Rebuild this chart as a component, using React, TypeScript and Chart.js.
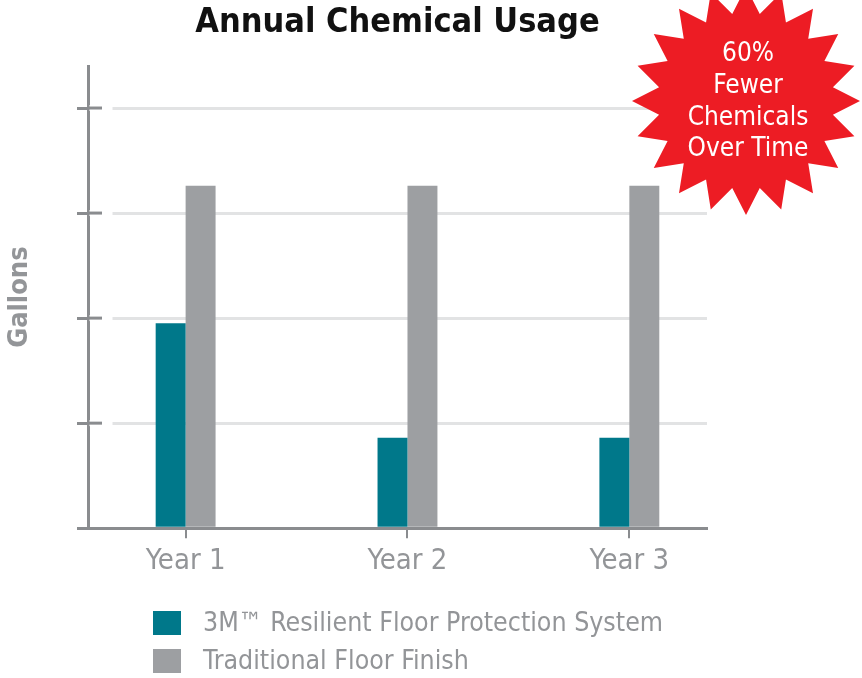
import React, { useEffect, useRef } from 'react';
import { Chart, registerables } from 'chart.js';

Chart.register(...registerables);

// ---- data ----
const categories = ['Year 1', 'Year 2', 'Year 3'];
const resilientValues = [1.95, 0.86, 0.86];
const traditionalValues = [3.26, 3.26, 3.26];
const yTickValues = [0, 1, 2, 3, 4];
const seriesNames = ['3M™ Resilient Floor Protection System', 'Traditional Floor Finish'];
const burstLines = ['60%', 'Fewer', 'Chemicals', 'Over Time'];

// ---- styles ----
const TEAL = '#00788a';
const GRAY_BAR = '#9d9fa2';
const AXIS = '#8a8c8f';
const GRID = '#e2e3e4';
const TEXT_GRAY = '#939598';
const BURST_RED = '#ed1c24';
const FONT = '"Liberation Sans Narrow", "DejaVu Sans Condensed", "Arial Narrow", sans-serif';

const crossPlugin = {
  id: 'crossTicks',
  afterDraw(chart: any) {
    const ctx = chart.ctx;
    const y = chart.scales.y;
    const left = chart.chartArea.left;
    ctx.save();
    yTickValues.filter((v) => v > 0).forEach((v) => {
      const py = y.getPixelForValue(v);
      ctx.fillStyle = '#ffffff';
      ctx.fillRect(left + 1.5, py - 3, 23, 6);
      ctx.strokeStyle = AXIS;
      ctx.lineWidth = 3;
      ctx.beginPath();
      ctx.moveTo(left, py);
      ctx.lineTo(left + 14, py);
      ctx.stroke();
    });
    ctx.restore();
  },
};

const legendPlugin = {
  id: 'stackedLegend',
  afterDraw(chart: any) {
    const ctx = chart.ctx;
    const rows = [623, 661];
    ctx.save();
    chart.data.datasets.forEach((ds: any, i: number) => {
      const cy = rows[i];
      ctx.fillStyle = ds.backgroundColor;
      ctx.fillRect(153, cy - 12, 28, 24);
      ctx.fillStyle = TEXT_GRAY;
      ctx.font = `26.5px ${FONT}`;
      ctx.textAlign = 'left';
      ctx.textBaseline = 'middle';
      ctx.fillText(ds.label, 203, cy + 1);
    });
    ctx.restore();
  },
};

const burstPlugin = {
  id: 'starburst',
  afterDraw(chart: any) {
    const ctx = chart.ctx;
    const cx = 746;
    const cy = 101;
    const R = 114;
    const r = 88;
    const spikes = 20;
    ctx.save();
    ctx.beginPath();
    for (let i = 0; i < spikes * 2; i++) {
      const ang = -Math.PI / 2 + (i * Math.PI) / spikes;
      const rad = i % 2 === 0 ? R : r;
      const px = cx + rad * Math.cos(ang);
      const py = cy + rad * Math.sin(ang);
      if (i === 0) ctx.moveTo(px, py);
      else ctx.lineTo(px, py);
    }
    ctx.closePath();
    ctx.fillStyle = BURST_RED;
    ctx.fill();
    ctx.fillStyle = '#ffffff';
    ctx.font = `26px ${FONT}`;
    ctx.textAlign = 'center';
    ctx.textBaseline = 'middle';
    burstLines.forEach((line, i) => {
      ctx.fillText(line, cx + 2, cy + (i - 1.5) * 31.7 + 1);
    });
    ctx.restore();
  },
};

export default function App() {
  const canvasRef = useRef<HTMLCanvasElement | null>(null);

  useEffect(() => {
    if (!canvasRef.current) return;
    const chart = new Chart(canvasRef.current, {
      type: 'bar',
      data: {
        datasets: [
          {
            label: seriesNames[0],
            data: resilientValues.map((v, i) => ({ x: i + 1, y: v })),
            backgroundColor: TEAL,
            borderWidth: 0,
            barPercentage: 1,
            categoryPercentage: 0.27,
          },
          {
            label: seriesNames[1],
            data: traditionalValues.map((v, i) => ({ x: i + 1, y: v })),
            backgroundColor: GRAY_BAR,
            borderWidth: 0,
            barPercentage: 1,
            categoryPercentage: 0.27,
          },
        ],
      },
      options: {
        responsive: true,
        maintainAspectRatio: false,
        animation: false,
        layout: { padding: { left: 0, right: 155, top: 0, bottom: 93 } },
        plugins: {
          legend: { display: false },
          tooltip: { enabled: false },
          title: {
            display: true,
            text: 'Annual Chemical Usage',
            color: '#111111',
            fullSize: false,
            font: { family: FONT, size: 34, weight: 'bold' },
            padding: { top: 2.6, bottom: 22.6 },
          },
        },
        scales: {
          x: {
            type: 'linear',
            offset: false,
            min: 0.56,
            max: 3.35,
            afterBuildTicks: (scale: any) => {
              scale.ticks = categories.map((_, i) => ({ value: i + 1 }));
            },
            ticks: {
              color: TEXT_GRAY,
              font: { family: FONT, size: 29 },
              padding: 6,
              maxRotation: 0,
              autoSkip: false,
              callback: (value: any) => categories[Math.round(value) - 1] ?? '',
            },
            grid: {
              offset: false,
              drawOnChartArea: false,
              drawTicks: true,
              tickLength: 10,
              color: AXIS,
              lineWidth: 2,
            },
            border: { color: AXIS, width: 3 },
          },
          y: {
            min: 0,
            max: 4.4,
            afterBuildTicks: (scale: any) => {
              scale.ticks = yTickValues.map((v) => ({ value: v }));
            },
            ticks: { display: false },
            grid: {
              drawTicks: true,
              tickLength: 11,
              lineWidth: 3,
              color: (ctx: any) => (ctx.tick && ctx.tick.value === 0 ? 'rgba(0,0,0,0)' : GRID),
              tickColor: AXIS,
            },
            border: { color: AXIS, width: 3 },
            title: {
              display: true,
              text: 'Gallons',
              color: TEXT_GRAY,
              font: { family: FONT, size: 27, weight: 'bold' },
              padding: { top: 3.8, bottom: 40.8 },
            },
          },
        },
      },
      plugins: [crossPlugin, legendPlugin, burstPlugin],
    } as any);
    return () => chart.destroy();
  }, []);

  return (
    <div style={{ position: 'fixed', left: 0, top: 0, width: 862, height: 678, background: '#ffffff' }}>
      <canvas ref={canvasRef} />
    </div>
  );
}
